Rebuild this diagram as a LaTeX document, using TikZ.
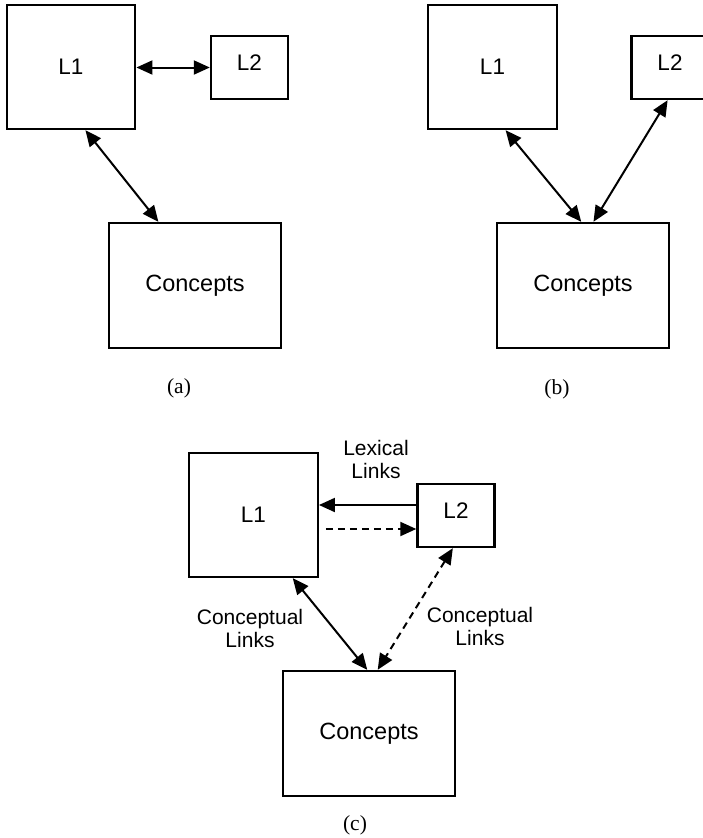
\documentclass[tikz,border=0pt]{standalone}
\usepackage{fontspec}
\setmainfont{Liberation Serif}
\newfontfamily\arialf{Liberation Sans}
\usetikzlibrary{arrows.meta,calc}
\begin{document}
\begin{tikzpicture}[x=1pt,y=-1pt,
  >={Triangle[length=16pt,width=14pt]},
  box/.style={draw,line width=2.4pt,inner sep=0pt,font=\arialf\fontsize{22.5}{24}\selectfont},
  bigbox/.style={box,minimum width=128.5pt,minimum height=124pt},
  smallbox/.style={box,minimum width=77pt,minimum height=63pt,text depth=10pt},
  cbox/.style={box,minimum width=172pt,minimum height=125pt,font=\arialf\fontsize{23.5}{26}\selectfont},
  link/.style={line width=2pt},
  dashpat/.style={dash pattern=on 7pt off 5pt},
  lab/.style={font=\arialf\fontsize{21}{23}\selectfont,align=center,inner sep=0pt},
  captxt/.style={font=\fontsize{21.5}{23}\selectfont,inner sep=0pt}
]
\useasboundingbox (0,0) rectangle (703,838);
\clip (0,0) rectangle (703,838);

% (a)
\node[bigbox] (aL1) at (71,67) {L1};
\node[smallbox] (aL2) at (249.5,67.5) {L2};
\node[cbox] (aC) at (195,285.5) {Concepts};
\draw[link,<->] (aL1.east |- aL2.west) -- (aL2.west);
\draw[link,<->] ($(aL1.south west)!0.61!(aL1.south east)$) -- ($(aC.north west)!0.29!(aC.north east)$);
\node[captxt] (capa) at (179,388) {(a)};

% (b)
\node[bigbox] (bL1) at (492.5,67) {L1};
\node[smallbox] (bL2) at (670,67.5) {L2};
\node[cbox] (bC) at (583,285.5) {Concepts};
\draw[link,<->] ($(bL1.south west)!0.6!(bL1.south east)$) -- ($(bC.north west)!0.49!(bC.north east)$);
\draw[link,<->] ($(bL2.south west)!0.47!(bL2.south east)$) -- ($(bC.north west)!0.56!(bC.north east)$);
\node[captxt] (capb) at (557,389) {(b)};

% (c)
\node[bigbox] (cL1) at (253.5,515) {L1};
\node[smallbox] (cL2) at (456,515.5) {L2};
\node[cbox] (cC) at (369,733.5) {Concepts};
\draw[link,->] ($(cL2.west)+(0,-10.5)$) -- ($(cL1.east)+(0,-10)$);
\draw[link,dashpat,->] ($(cL1.east)+(7,14)$) -- ($(cL2.west)+(0,13.5)$);
\draw[link,<->] ($(cL1.south west)!0.8!(cL1.south east)$) -- ($(cC.north west)!0.49!(cC.north east)$);
\draw[link,dashpat,<->] ($(cL2.south west)!0.46!(cL2.south east)$) -- ($(cC.north west)!0.55!(cC.north east)$);
\node[lab] (lex) at (376,459) {Lexical\\Links};
\node[lab] (cl1) at (250,628) {Conceptual\\Links};
\node[lab] (cl2) at (480,626) {Conceptual\\Links};
\node[captxt] (capc) at (355,825) {(c)};
\end{tikzpicture}
\end{document}
